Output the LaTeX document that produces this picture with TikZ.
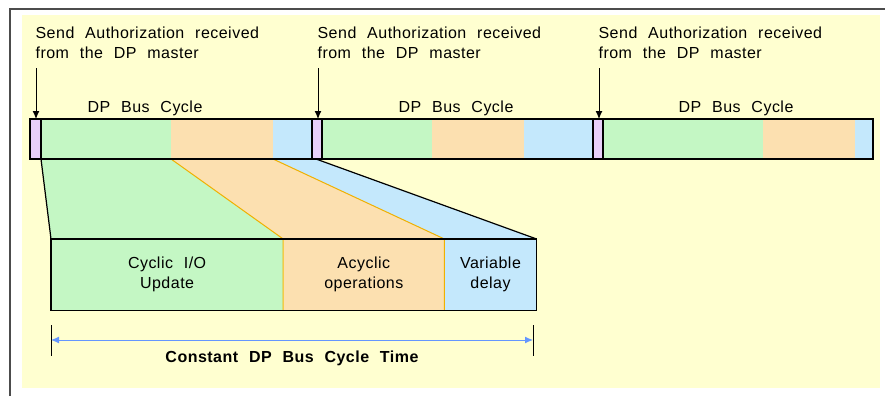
\documentclass[tikz,border=0pt]{standalone}
\usepackage{fontspec}
\setmainfont{Liberation Sans}[LetterSpace=3,WordSpace=2.2]
\usetikzlibrary{arrows.meta}
\definecolor{bgyellow}{RGB}{255,255,208}
\definecolor{cycgreen}{RGB}{196,247,196}
\definecolor{acyorange}{RGB}{252,224,176}
\definecolor{varblue}{RGB}{196,232,252}
\definecolor{authpurple}{RGB}{232,208,250}
\definecolor{edgeorange}{RGB}{240,176,0}
\definecolor{dimblue}{RGB}{100,150,255}

\begin{document}
\begin{tikzpicture}[x=1pt,y=-1pt,line width=1.2pt,
  font=\fontsize{16}{20}\selectfont,
  authtext/.style={anchor=north west,inner sep=0pt,align=left},
  segbox/.style={anchor=north west,inner sep=0pt,minimum height=70pt,align=center},
  sendarrow/.style={line width=1pt,-{Latex[length=8pt,width=7pt]}}]
  \def\ytop{119}
  \def\ybot{159}
  \useasboundingbox (0,0) rectangle (885,396);

%background:
  \fill[bgyellow] (22,15) rectangle (880,388);
  \draw[gray!60!black,line width=2pt] (10,396) -- (10,9) -- (885,9);

%zoomed cycle:
  \node[segbox,fill=cycgreen,minimum width=231pt] (cyc) at (51,239) {Cyclic I/O\\Update};
  \node[segbox,fill=acyorange,minimum width=160pt] (acy) at (cyc.north east) {Acyclic\\operations};
  \node[segbox,fill=varblue,minimum width=91pt] (var) at (acy.north east) {Variable\\delay};

  \fill[cycgreen] (41,\ybot) -- (171,\ybot) -- (cyc.north east) -- (cyc.north west) -- cycle;
  \fill[acyorange] (171,\ybot) -- (273,\ybot) -- (acy.north east) -- (acy.north west) -- cycle;
  \fill[varblue] (273,\ybot) -- (316,\ybot) -- (var.north east) -- (var.north west) -- cycle;
  \draw[edgeorange,line width=1pt] (171,\ybot) -- (acy.north west) -- (acy.south west)
    (273,\ybot) -- (var.north west) -- (var.south west);
  \draw (41,\ybot) -- (cyc.north west);
  \draw (316,\ybot) -- (var.north east);
  \draw (cyc.north west) rectangle (var.south east);

%bus cycles:
  \foreach \p/\g/\o/\b/\e [count=\i] in {30/41/171/273/312, 312/322/432/524/593, 593/603/763/855/873}{
    \fill[cycgreen] (\g,\ytop) rectangle (\o,\ybot);
    \fill[acyorange] (\o,\ytop) rectangle (\b,\ybot);
    \fill[varblue] (\b,\ytop) rectangle (\e,\ybot);
    \draw[fill=authpurple] (\p,\ytop) rectangle (\g,\ybot);
    \coordinate (s\i) at (\p+6,\ytop);
    \node[authtext] (auth\i) at (\p+5,26.5) {Send Authorization received\\from the DP master};
    \draw[sendarrow,shorten <=9pt] (auth\i.south -| s\i) -- (s\i);
  }
  \draw (30,\ytop) rectangle (873,\ybot);
  \node[anchor=base] (bus1) at (145,112) {DP Bus Cycle};
  \node[anchor=base] (bus2) at (456,112) {DP Bus Cycle};
  \node[anchor=base] (bus3) at (736,112) {DP Bus Cycle};

%cycle time:
  \coordinate (tl) at (51,340);
  \coordinate (tr) at (533,340);
  \draw[dimblue,line width=1pt,{Latex[length=8pt,width=7pt]}-{Latex[length=8pt,width=7pt]}] (tl) -- (tr);
  \draw[line width=1pt] (tl) ++(0,-15) -- ++(0,31) (tr) ++(0,-15) -- ++(0,31);
  \node[anchor=base,font=\fontsize{16}{20}\selectfont\bfseries] (ctime) at (292,362) {Constant DP Bus Cycle Time};
\end{tikzpicture}
\end{document}
